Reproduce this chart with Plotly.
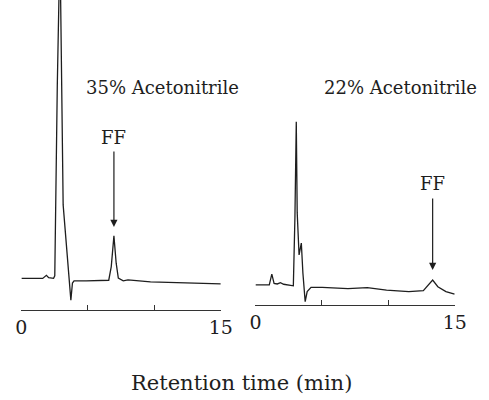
import plotly.graph_objects as go

# Chromatogram, 35% acetonitrile (time in min, detector response in arbitrary units)
t35 = [0.00, 1.60, 1.88, 2.05, 2.42, 2.51, 2.70, 2.90, 3.14, 3.31, 3.55, 3.72, 3.84, 3.96,
       4.88, 6.57, 6.76, 6.96, 7.13, 7.29, 7.66, 8.02, 9.71, 12.37, 15.00]
r35 = [10.2, 10.2, 11.2, 10.4, 10.2, 11.0, 72.6, 118.0, 33.9, 24.8, 10.3, 3.2, 8.7, 9.4,
       9.4, 9.6, 14.0, 23.9, 15.1, 10.3, 9.4, 9.7, 9.1, 8.8, 8.4]

# Chromatogram, 22% acetonitrile
t22 = [0.00, 1.04, 1.23, 1.40, 1.64, 1.88, 2.12, 2.85, 2.97, 3.07, 3.14, 3.28, 3.45, 3.57,
       3.74, 3.89, 4.18, 5.02, 6.96, 8.41, 9.86, 11.54, 12.63, 13.12, 13.33, 13.72, 14.33, 14.98]
r22 = [6.6, 6.6, 10.1, 7.1, 6.9, 7.3, 6.8, 6.3, 29.0, 60.1, 30.2, 16.4, 20.3, 10.4,
       1.1, 4.4, 5.8, 5.8, 5.4, 5.7, 4.9, 4.4, 4.7, 7.1, 8.2, 6.0, 4.4, 3.6]

tick_vals = [0, 5, 10, 15]
tick_text = ["0", "", "", "15"]

ff35_time, ff35_resp = 6.96, 23.9
ff22_time, ff22_resp = 13.33, 8.2

FONT = "DejaVu Serif"
INK = "#1e1e1e"

fig = go.Figure()
fig.add_trace(go.Scatter(x=t35, y=r35, mode="lines", line=dict(color=INK, width=1.3),
                         xaxis="x", yaxis="y", showlegend=False, hoverinfo="skip"))
fig.add_trace(go.Scatter(x=t22, y=r22, mode="lines", line=dict(color=INK, width=1.3),
                         xaxis="x2", yaxis="y2", showlegend=False, hoverinfo="skip"))

xcommon = dict(range=[0, 15], showgrid=False, zeroline=False, showline=True,
               linecolor="#333", linewidth=1, ticks="inside", ticklen=5, tickwidth=1,
               tickcolor="#333", tickvals=tick_vals, ticktext=tick_text,
               tickfont=dict(family=FONT, size=19, color=INK), fixedrange=True)
ycommon = dict(range=[0, 100], visible=False, fixedrange=True)

def label(text, x, y, size, xref="paper", yref="paper"):
    return dict(text=text, x=x, y=y, xref=xref, yref=yref, xanchor="center",
                yanchor="middle", showarrow=False,
                font=dict(family=FONT, size=size, color=INK))

fig.update_layout(
    width=489, height=400,
    margin=dict(l=0, r=0, t=0, b=0),
    paper_bgcolor="white", plot_bgcolor="white",
    xaxis=dict(domain=[16/489, 223/489], anchor="y", **xcommon),
    yaxis=dict(domain=[0.225, 1], anchor="x", **ycommon),
    xaxis2=dict(domain=[259/489, 466/489], anchor="y2", **xcommon),
    yaxis2=dict(domain=[0.2375, 1], anchor="x2", **ycommon),
    annotations=[
        label("35% Acetonitrile", 162/489, 1-87/400, 18),
        label("22% Acetonitrile", 410/489, 1-88/400, 18),
        label("FF", ff35_time, 55.8, 18, "x", "y"),
        label("FF", ff22_time, 40.0, 18, "x2", "y2"),
        dict(text="", x=ff35_time, y=ff35_resp + 2.9, ax=ff35_time, ay=51.6,
             xref="x", yref="y", axref="x", ayref="y", showarrow=True,
             arrowhead=2, arrowsize=1.2, arrowwidth=1.2, arrowcolor=INK),
        dict(text="", x=ff22_time, y=ff22_resp + 3.3, ax=ff22_time, ay=35.4,
             xref="x2", yref="y2", axref="x2", ayref="y2", showarrow=True,
             arrowhead=2, arrowsize=1.2, arrowwidth=1.2, arrowcolor=INK),
        label("Retention time (min)", 245/489, 1-383/400, 21),
    ],
)

fig.write_html("out.html")
